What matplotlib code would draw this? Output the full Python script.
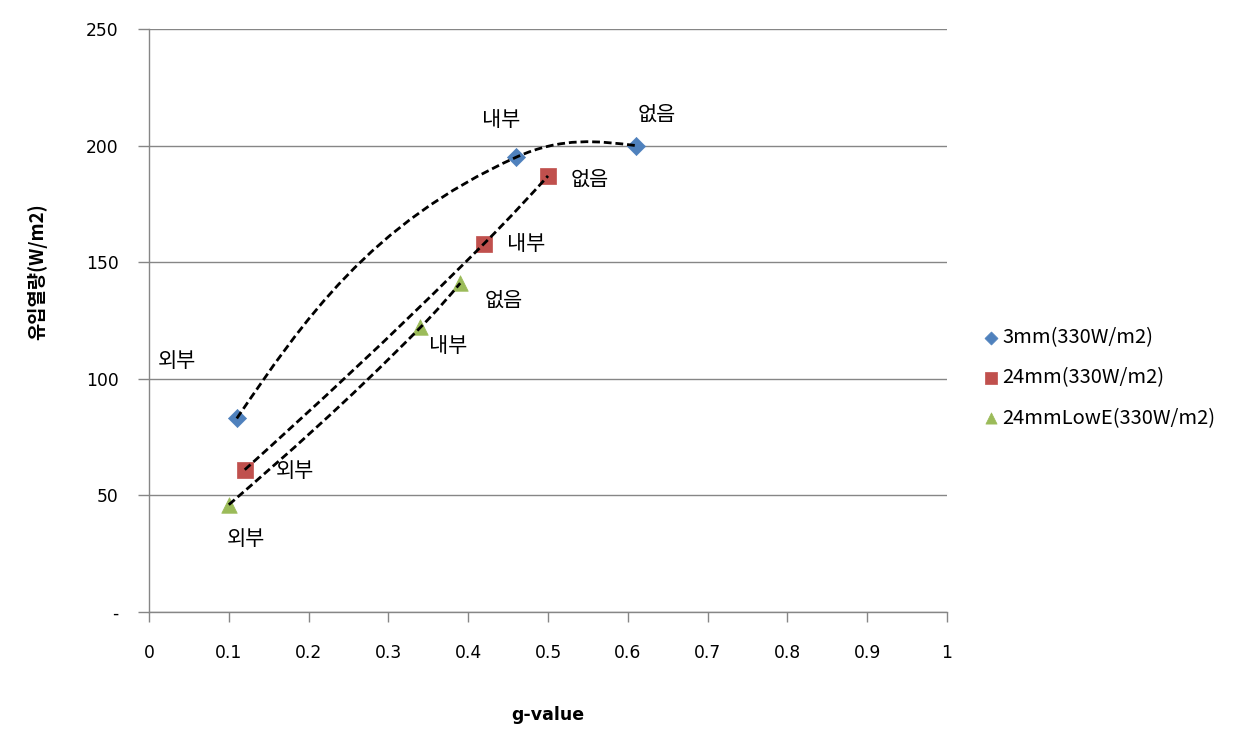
import numpy as np
import matplotlib
matplotlib.use("Agg")
import matplotlib.pyplot as plt
from matplotlib.path import Path
from matplotlib.patches import PathPatch

plt.rcParams['font.family'] = ['Noto Sans CJK KR', 'DejaVu Sans']

# ---- data ----
series_names = ['3mm(330W/m2)', '24mm(330W/m2)', '24mmLowE(330W/m2)']
g_3mm = [0.11, 0.46, 0.61]
q_3mm = [83, 195, 200]
g_24mm = [0.12, 0.42, 0.50]
q_24mm = [61, 158, 187]
g_lowe = [0.10, 0.34, 0.39]
q_lowe = [46, 122, 141]
point_labels = ['외부', '내부', '없음']
x_ticks = [0, 0.1, 0.2, 0.3, 0.4, 0.5, 0.6, 0.7, 0.8, 0.9, 1.0]
x_tick_labels = ['0', '0.1', '0.2', '0.3', '0.4', '0.5', '0.6', '0.7', '0.8', '0.9', '1']
y_ticks = [0, 50, 100, 150, 200, 250]
y_tick_labels = ['-', '50', '100', '150', '200', '250']
x_label = 'g-value'
y_label = '유입열량(W/m2)'

# ---- style / layout ----
colors = ['#4F81BD', '#C0504D', '#9BBB59']
markers = ['D', 's', '^']
msizes = [85, 125, 125]
label_offsets = [
    [(-43, 41), (-11, 27), (15, 22)],
    [(36, -1), (30, 0), (30, -3)],
    [(12, -25), (20, -13), (31, -13)],
]

W, H = 1240, 749
fig = plt.figure(figsize=(W / 100, H / 100), dpi=100)
ax = fig.add_axes([149 / W, 1 - 612 / H, 798 / W, 583 / H])
ax.set_xlim(0, 1)
ax.set_ylim(0, 250)

grid_c = '#868686'
for s in ['top', 'right']:
    ax.spines[s].set_visible(False)
for s in ['left', 'bottom']:
    ax.spines[s].set_color(grid_c)
    ax.spines[s].set_linewidth(1.0)
ax.yaxis.grid(True, color=grid_c, linewidth=1.0)
ax.set_axisbelow(True)

ax.set_xticks(x_ticks)
ax.set_xticklabels(x_tick_labels)
ax.set_yticks(y_ticks)
ax.set_yticklabels(y_tick_labels)
for lbl in ax.get_xticklabels() + ax.get_yticklabels():
    lbl.set_fontfamily(['DejaVu Sans'])
    lbl.set_fontsize(12.3)
ax.tick_params(axis='x', direction='out', length=7, width=1, color=grid_c, pad=16)
ax.tick_params(axis='y', direction='out', length=8, width=1, color=grid_c, pad=14)

ax.set_xlabel(x_label, fontsize=12.5, fontweight='bold', family=['DejaVu Sans'])
ax.set_ylabel(y_label, fontsize=13.5, fontweight='bold')
ax.xaxis.set_label_coords(0.5, -0.161)
ax.yaxis.set_label_coords(-0.128, 0.583)


def unit(v):
    n = np.hypot(v[0], v[1])
    return v / n if n > 0 else v


def smooth_path(xs, ys, k=0.4):
    P = ax.transData.transform(np.column_stack([xs, ys]))
    n = len(P)
    d = [None] * n
    for i in range(1, n - 1):
        d[i] = unit(unit(P[i] - P[i - 1]) + unit(P[i + 1] - P[i]))
    verts = [P[0]]
    codes = [Path.MOVETO]
    for i in range(n - 1):
        L = np.hypot(*(P[i + 1] - P[i]))
        c1 = P[i] + d[i] * k * L if d[i] is not None else None
        c2 = P[i + 1] - d[i + 1] * k * L if d[i + 1] is not None else None
        if c1 is None and c2 is None:
            c1 = P[i] + (P[i + 1] - P[i]) / 3
            c2 = P[i] + 2 * (P[i + 1] - P[i]) / 3
        elif c1 is None:
            c1 = (P[i] + c2) / 2
        elif c2 is None:
            c2 = (P[i + 1] + c1) / 2
        verts += [c1, c2, P[i + 1]]
        codes += [Path.CURVE4] * 3
    verts = ax.transData.inverted().transform(np.array(verts))
    return Path(verts, codes)


all_g = [g_3mm, g_24mm, g_lowe]
all_q = [q_3mm, q_24mm, q_lowe]
handles = []
for i in range(3):
    h = ax.scatter(all_g[i], all_q[i], marker=markers[i], s=msizes[i], color=colors[i],
                   edgecolors=colors[i], linewidths=0.5, zorder=3, label=series_names[i],
                   clip_on=False)
    handles.append(h)
    patch = PathPatch(smooth_path(all_g[i], all_q[i], k=0.42), fill=False, edgecolor='black',
                      linewidth=2.0, linestyle=(0, (2.8, 1.4)), zorder=4, capstyle='butt')
    ax.add_patch(patch)
    for j in range(len(all_g[i])):
        ax.annotate(point_labels[j], (all_g[i][j], all_q[i][j]), xytext=label_offsets[i][j],
                    textcoords='offset points', ha='center', va='center', fontsize=15,
                    fontweight='light', color='black', zorder=5)

leg = fig.legend(handles=handles, loc='center left', bbox_to_anchor=(971 / W, 1 - 378 / H),
                 frameon=False, fontsize=14.5, handletextpad=0.05, handlelength=1.0,
                 labelspacing=0.95, borderpad=0, scatterpoints=1, markerscale=0.72)

fig.savefig('out.png', dpi=100)
